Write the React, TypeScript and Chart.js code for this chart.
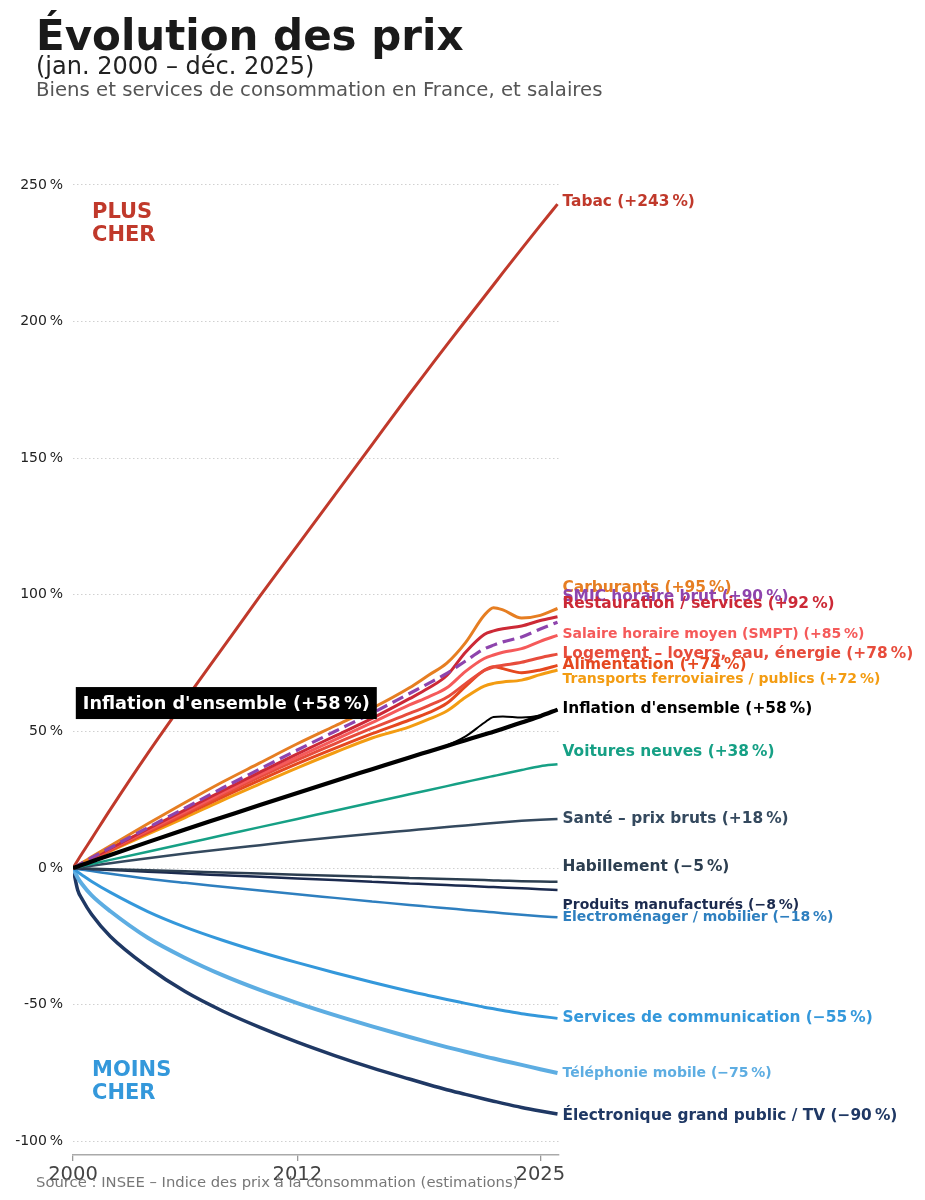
import React, { useEffect, useRef } from "react";
import { Chart, registerables } from "chart.js";

Chart.register(...registerables);

const FONT = '"DejaVu Sans", "Noto Sans", sans-serif';

// ---- data (percent change since Jan. 2000) ----
const YEARS = [2000, 2000.25, 2000.5, 2001, 2002, 2004, 2006, 2008, 2010, 2012, 2014, 2016, 2018, 2019, 2020, 2021, 2022, 2022.5, 2023, 2024, 2025, 2025.92];

const TABAC = [0, 2.8, 5.5, 10.8, 21.5, 42, 61.5, 80.5, 99.5, 118, 136.5, 155, 173.5, 182.5, 191.5, 200.3, 209.1, 213.5, 217.9, 226.6, 235.2, 243];
const CARBURANTS = [0, 1, 2, 4.1, 8.2, 16.2, 24, 31.5, 38.5, 45.5, 52, 58.5, 66, 70.5, 75, 82.5, 92.5, 95.3, 94.5, 91.5, 92.5, 95];
const SMIC = [0, 0.95, 1.9, 3.8, 7.5, 14.8, 22, 29.3, 36.3, 43.2, 50, 56.7, 63.9, 67.5, 71.3, 75.8, 80.2, 81.6, 82.8, 84.6, 87.5, 90];
const RESTAURATION = [0, 0.9, 1.8, 3.6, 7.2, 14.3, 21.3, 28.3, 35.1, 41.8, 48.3, 54.8, 62, 65.8, 70.5, 79, 85.5, 86.8, 87.6, 88.6, 90.6, 92];
const SMPT = [0, 0.9, 1.75, 3.5, 7, 13.9, 20.7, 27.5, 34.2, 40.6, 46.9, 53.2, 59.7, 62.6, 66, 72, 76.7, 78, 79, 80.3, 83, 85.2];
const LOGEMENT = [0, 0.85, 1.7, 3.35, 6.7, 13.4, 20.1, 26.9, 33.4, 39.6, 45.5, 51.2, 56.6, 59.4, 62.5, 67.5, 72.3, 73.6, 74.2, 75.3, 77, 78.3];
const ALIMENTATION = [0, 0.8, 1.6, 3.2, 6.5, 13, 19.5, 26, 32.2, 38.2, 43.8, 49.2, 54.2, 56.8, 60.3, 66.5, 72.4, 73.7, 73, 71.5, 72.5, 74.2];
const TRANSPORTS = [0, 0.78, 1.55, 3.1, 6.2, 12.4, 18.5, 24.8, 30.8, 36.7, 42.3, 47.6, 51.7, 54.4, 57.5, 62.5, 66.6, 67.6, 68.1, 68.8, 70.8, 72.5];
const INFLATION = [0, 0.6, 1.2, 2.4, 4.8, 9.5, 14.1, 18.6, 23.1, 27.5, 31.9, 36.2, 40.5, 42.6, 44.7, 46.8, 48.9, 49.9, 51.0, 53.3, 55.6, 58];
const INFLATION_MENSUELLE = [0, 0.6, 1.2, 2.4, 4.8, 9.5, 14.1, 18.6, 23.1, 27.5, 31.9, 36.2, 40.5, 42.6, 44.9, 48.2, 53.2, 55.3, 55.5, 55.1, 55.9, 58];
const VOITURES = [0, 0.4, 0.75, 1.5, 3, 6, 9, 12, 15, 18, 21, 24, 27, 28.5, 30, 31.5, 33, 33.7, 34.4, 35.9, 37.3, 38];
const SANTE = [0, 0.25, 0.5, 0.9, 1.8, 3.6, 5.3, 6.9, 8.4, 9.9, 11.3, 12.6, 13.8, 14.4, 15, 15.6, 16.2, 16.5, 16.8, 17.3, 17.7, 18];
const HABILLEMENT = [0, -0.05, -0.1, -0.2, -0.4, -0.8, -1.2, -1.6, -2, -2.4, -2.8, -3.2, -3.6, -3.8, -4, -4.2, -4.4, -4.5, -4.6, -4.8, -4.95, -5];
const PRODUITS = [0, -0.1, -0.2, -0.4, -0.7, -1.3, -2, -2.6, -3.2, -3.8, -4.4, -5, -5.6, -5.9, -6.2, -6.5, -6.8, -6.95, -7.1, -7.4, -7.7, -8];
const ELECTROMENAGER = [0, -0.35, -0.65, -1.1, -2.1, -3.9, -5.4, -6.8, -8.2, -9.6, -10.9, -12.2, -13.5, -14.1, -14.7, -15.3, -15.9, -16.2, -16.5, -17.1, -17.6, -18];
const SERVICES = [0, -1.4, -2.6, -4.9, -8.9, -15.9, -21.6, -26.4, -30.7, -34.6, -38.3, -41.8, -45.1, -46.6, -48.1, -49.5, -50.9, -51.5, -52.1, -53.3, -54.2, -55];
const TELEPHONIE = [0, -3.5, -6, -10, -15.8, -25.5, -32.9, -39.2, -44.6, -49.4, -53.8, -57.9, -61.8, -63.7, -65.5, -67.2, -68.9, -69.7, -70.5, -72, -73.6, -75];
const ELECTRONIQUE = [0, -8, -11.5, -17, -25, -36.2, -45.2, -52.3, -58.3, -63.7, -68.6, -73.1, -77.2, -79.2, -81.1, -82.8, -84.5, -85.3, -86.1, -87.6, -88.9, -90];

const X_TICKS = [2000, 2012, 2025];
const Y_MIN = -105;
const Y_MAX = 265;
const Y_STEP = 50;

// series config (drawn in this order, first = on top)
const SERIES = [
  { values: INFLATION, color: "#000000", width: 4.2, text: "Inflation d'ensemble (+58\u202F%)", labelAt: 58.2, size: 15.4 },
  { values: INFLATION_MENSUELLE, color: "#000000", width: 2, text: "", labelAt: 0, size: 0 },
  { values: SMIC, color: "#8e44ad", width: 3.2, dash: [12, 6], text: "SMIC horaire brut (+90\u202F%)", labelAt: 99.2, size: 15.4 },
  { values: CARBURANTS, color: "#e67e22", width: 3, text: "Carburants (+95\u202F%)", labelAt: 102.5, size: 15.4 },
  { values: RESTAURATION, color: "#cc2936", width: 3, text: "Restauration / services (+92\u202F%)", labelAt: 96.6, size: 15.4 },
  { values: SMPT, color: "#f55a5a", width: 3, text: "Salaire horaire moyen (SMPT) (+85\u202F%)", labelAt: 85.7, size: 14 },
  { values: LOGEMENT, color: "#e74c3c", width: 3, text: "Logement – loyers, eau, énergie (+78\u202F%)", labelAt: 78.4, size: 15.4 },
  { values: ALIMENTATION, color: "#e5481f", width: 3, text: "Alimentation (+74\u202F%)", labelAt: 74.4, size: 15.4 },
  { values: TRANSPORTS, color: "#f39c12", width: 3, text: "Transports ferroviaires / publics (+72\u202F%)", labelAt: 69.2, size: 14 },
  { values: VOITURES, color: "#16a085", width: 2.5, text: "Voitures neuves (+38\u202F%)", labelAt: 42.5, size: 15.4 },
  { values: SANTE, color: "#34495e", width: 2.5, text: "Santé – prix bruts (+18\u202F%)", labelAt: 17.9, size: 15.4 },
  { values: HABILLEMENT, color: "#2c3e50", width: 2.5, text: "Habillement (−5\u202F%)", labelAt: 0.4, size: 15.4 },
  { values: PRODUITS, color: "#1b2a4e", width: 2.5, text: "Produits manufacturés (−8\u202F%)", labelAt: -13.5, size: 14 },
  { values: ELECTROMENAGER, color: "#2e7fbf", width: 2.5, text: "Électroménager / mobilier (−18\u202F%)", labelAt: -17.9, size: 14 },
  { values: SERVICES, color: "#3498db", width: 3, text: "Services de communication (−55\u202F%)", labelAt: -54.9, size: 15.4 },
  { values: TELEPHONIE, color: "#5dade2", width: 4, text: "Téléphonie mobile (−75\u202F%)", labelAt: -75, size: 14 },
  { values: ELECTRONIQUE, color: "#1f3864", width: 3.5, text: "Électronique grand public / TV (−90\u202F%)", labelAt: -90.7, size: 15.4 },
  { values: TABAC, color: "#c0392b", width: 3, text: "Tabac (+243\u202F%)", labelAt: 243.8, size: 15.4 },
];

const BOX_TEXT = "Inflation d'ensemble (+58\u202F%)";
const BOX_AT = { x: 2000.15, y: 60.4 };

const endLabels = {
  id: "endLabels",
  afterDatasetsDraw(chart: any) {
    const { ctx } = chart;
    const xs = chart.scales.x;
    const ys = chart.scales.y;
    ctx.save();
    ctx.font = `bold 17.7px ${FONT}`;
    const w = ctx.measureText(BOX_TEXT).width;
    const bx = xs.getPixelForValue(BOX_AT.x);
    const by = ys.getPixelForValue(BOX_AT.y);
    ctx.fillStyle = "#000";
    ctx.fillRect(bx, by - 16, w + 14, 32);
    ctx.fillStyle = "#fff";
    ctx.textBaseline = "middle";
    ctx.textAlign = "left";
    ctx.fillText(BOX_TEXT, bx + 7, by + 1);
    ctx.restore();
  },
  afterDraw(chart: any) {
    const { ctx } = chart;
    const xs = chart.scales.x;
    const ys = chart.scales.y;
    const lx = xs.getPixelForValue(YEARS[YEARS.length - 1]) + 5;
    const items = SERIES.filter((s) => s.text).sort((a, b) => b.labelAt - a.labelAt);
    ctx.save();
    ctx.textBaseline = "middle";
    ctx.textAlign = "left";
    for (const s of items) {
      ctx.font = `bold ${s.size}px ${FONT}`;
      ctx.fillStyle = s.color;
      ctx.fillText(s.text, lx, ys.getPixelForValue(s.labelAt));
    }
    ctx.restore();
  },
};

export default function App() {
  const ref = useRef<HTMLCanvasElement | null>(null);

  useEffect(() => {
    document.body.style.margin = "0";
    const canvas = ref.current;
    if (!canvas) return;
    const datasets = SERIES.map((s, i) => ({
      label: s.text || "Inflation (mensuelle)",
      data: YEARS.map((yr, k) => ({ x: yr, y: s.values[k] })),
      borderColor: s.color,
      backgroundColor: s.color,
      borderWidth: s.width,
      borderDash: (s as any).dash || [],
      pointRadius: 0,
      pointHoverRadius: 0,
      cubicInterpolationMode: "monotone" as const,
      fill: false,
      order: i,
    }));
    const chart = new Chart(canvas, {
      type: "line",
      data: { datasets },
      options: {
        responsive: false,
        animation: false,
        events: [],
        layout: { padding: { left: 8, right: 366, top: 144, bottom: 0 } },
        plugins: { legend: { display: false }, tooltip: { enabled: false }, title: { display: false } },
        scales: {
          x: {
            type: "linear",
            min: 2000,
            max: 2026,
            afterBuildTicks: (scale: any) => {
              scale.ticks = X_TICKS.map((v) => ({ value: v }));
            },
            afterFit: (scale: any) => {
              scale.height = 45;
            },
            ticks: {
              callback: (v: any) => String(v),
              font: { family: FONT, size: 19.5 },
              color: "#444",
              padding: 2,
              maxRotation: 0,
              autoSkip: false,
            },
            grid: { display: true, drawOnChartArea: false, drawTicks: true, tickLength: 6, color: "#999", lineWidth: 1.3 },
            border: { display: true, color: "#aaa", width: 1.5 },
          },
          y: {
            type: "linear",
            min: Y_MIN,
            max: Y_MAX,
            afterFit: (scale: any) => {
              scale.width = 65;
            },
            ticks: {
              stepSize: Y_STEP,
              includeBounds: false,
              callback: (v: any) => (Number(v) % 50 === 0 ? `${v}\u202F%` : ""),
              font: { family: FONT, size: 14 },
              color: "#222",
              padding: 10,
            },
            grid: { drawTicks: false, color: "#d0d0d0", lineWidth: 1 },
            border: { display: false, dash: [1.5, 2.5] },
          },
        },
      },
      plugins: [endLabels],
    } as any);
    return () => chart.destroy();
  }, []);

  const abs: React.CSSProperties = { position: "absolute", whiteSpace: "nowrap", fontFamily: FONT, pointerEvents: "none" };

  return (
    <div style={{ position: "relative", width: 925, height: 1200, background: "#fff", overflow: "hidden" }}>
      <canvas ref={ref} width={925} height={1200} style={{ position: "absolute", left: 0, top: 0 }} />
      <div style={{ ...abs, left: 36, top: 14.5, fontSize: 42, lineHeight: "42px", fontWeight: "bold", color: "#1a1a1a" }}>
        Évolution des prix
      </div>
      <div style={{ ...abs, left: 36, top: 54, fontSize: 24, lineHeight: "24px", color: "#222" }}>
        (jan. 2000 – déc. 2025)
      </div>
      <div style={{ ...abs, left: 36, top: 80.3, fontSize: 19.7, lineHeight: "19.7px", color: "#555" }}>
        Biens et services de consommation en France, et salaires
      </div>
      <div style={{ ...abs, left: 92, top: 200, fontSize: 21, lineHeight: "23px", fontWeight: "bold", color: "#c0392b" }}>
        PLUS
        <br />
        CHER
      </div>
      <div style={{ ...abs, left: 92, top: 1058, fontSize: 21, lineHeight: "23px", fontWeight: "bold", color: "#3498db" }}>
        MOINS
        <br />
        CHER
      </div>
      <div style={{ ...abs, left: 36, top: 1174.5, fontSize: 14.8, lineHeight: "14.8px", color: "#777" }}>
        Source : INSEE – Indice des prix à la consommation (estimations)
      </div>
    </div>
  );
}
